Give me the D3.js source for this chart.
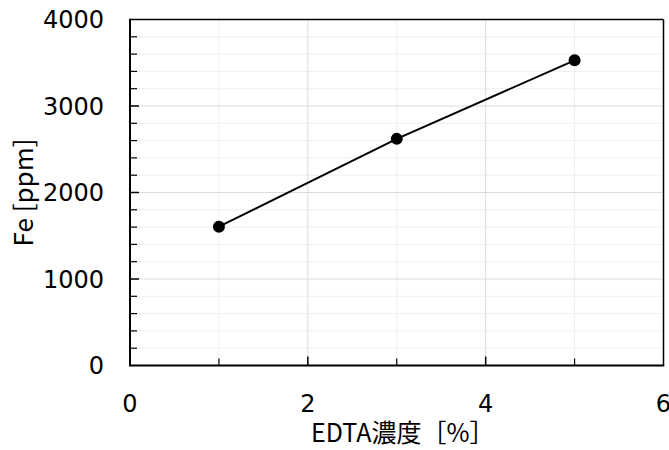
<!DOCTYPE html>
<html>
<head>
<meta charset="utf-8">
<script src="https://cdn.jsdelivr.net/npm/d3@7"></script>
<style>
  html, body { margin: 0; padding: 0; background: #fff; }
  svg { display: block; }
</style>
</head>
<body>
<svg id="chart" width="669" height="450"></svg>
<script>
// Data
const edta = [1, 3, 5];
const fe = [1605, 2620, 3528];
const xMajorTicks = [0, 2, 4, 6];
const xMinorTicks = [1, 3, 5];
const yMajorTicks = [0, 1000, 2000, 3000, 4000];
const yMinorTicks = d3.range(200, 4000, 200).filter(v => v % 1000 !== 0);
const xTitle = "EDTA濃度［%］";
const yTitle = "Fe [ppm]";

const W = 669, H = 450;
const m = { left: 130, top: 19.5, right: 669 - 663.5, bottom: 450 - 365.5 };
const svg = d3.select("#chart");

const x = d3.scaleLinear().domain([0, 6]).range([m.left, W - m.right]);
const y = d3.scaleLinear().domain([0, 4000]).range([H - m.bottom, m.top]);

const g = svg.append("g");

// minor gridlines
g.selectAll(".ymin").data(yMinorTicks).join("line")
  .attr("x1", x(0)).attr("x2", x(6))
  .attr("y1", d => y(d)).attr("y2", d => y(d))
  .attr("stroke", "#efefef").attr("stroke-width", 1);
g.selectAll(".xmin").data(xMinorTicks).join("line")
  .attr("y1", y(0)).attr("y2", y(4000))
  .attr("x1", d => x(d)).attr("x2", d => x(d))
  .attr("stroke", "#efefef").attr("stroke-width", 1);
// major gridlines
g.selectAll(".ymaj").data(yMajorTicks.slice(1, -1)).join("line")
  .attr("x1", x(0)).attr("x2", x(6))
  .attr("y1", d => y(d)).attr("y2", d => y(d))
  .attr("stroke", "#dcdcdc").attr("stroke-width", 1);
g.selectAll(".xmaj").data(xMajorTicks.slice(1, -1)).join("line")
  .attr("y1", y(0)).attr("y2", y(4000))
  .attr("x1", d => x(d)).attr("x2", d => x(d))
  .attr("stroke", "#dcdcdc").attr("stroke-width", 1);

// ticks (inside)
g.selectAll(".ytm").data(yMajorTicks.slice(1, -1)).join("line")
  .attr("x1", x(0)).attr("x2", x(0) + 9)
  .attr("y1", d => y(d)).attr("y2", d => y(d))
  .attr("stroke", "#000").attr("stroke-width", 1.5);
g.selectAll(".ytn").data(yMinorTicks).join("line")
  .attr("x1", x(0)).attr("x2", x(0) + 7)
  .attr("y1", d => y(d)).attr("y2", d => y(d))
  .attr("stroke", "#000").attr("stroke-width", 1.2);
g.selectAll(".xtm").data(xMajorTicks.slice(1, -1)).join("line")
  .attr("y1", y(0)).attr("y2", y(0) - 9)
  .attr("x1", d => x(d)).attr("x2", d => x(d))
  .attr("stroke", "#000").attr("stroke-width", 1.5);
g.selectAll(".xtn").data(xMinorTicks).join("line")
  .attr("y1", y(0)).attr("y2", y(0) - 7)
  .attr("x1", d => x(d)).attr("x2", d => x(d))
  .attr("stroke", "#000").attr("stroke-width", 1.2);

// frame
g.append("line").attr("x1", x(0)).attr("x2", x(6)).attr("y1", y(4000)).attr("y2", y(4000))
  .attr("stroke", "#000").attr("stroke-width", 1.5);
g.append("line").attr("x1", x(6)).attr("x2", x(6)).attr("y1", y(0)).attr("y2", y(4000))
  .attr("stroke", "#000").attr("stroke-width", 1.5);
g.append("line").attr("x1", x(0) - 1).attr("x2", x(6) + 0.75).attr("y1", y(0)).attr("y2", y(0))
  .attr("stroke", "#000").attr("stroke-width", 2);
g.append("line").attr("x1", x(0)).attr("x2", x(0)).attr("y1", y(0)).attr("y2", y(4000) - 0.75)
  .attr("stroke", "#000").attr("stroke-width", 2);

// tick labels
const tickFont = "'DejaVu Sans', Verdana, sans-serif";
g.selectAll(".ylab").data(yMajorTicks).join("text")
  .attr("x", 104).attr("y", d => y(d) + 8.5)
  .attr("text-anchor", "end")
  .attr("font-family", tickFont).attr("font-size", 24)
  .attr("fill", "#000")
  .text(d => d);
g.selectAll(".xlab").data(xMajorTicks).join("text")
  .attr("x", d => x(d)).attr("y", 412)
  .attr("text-anchor", "middle")
  .attr("font-family", tickFont).attr("font-size", 24)
  .attr("fill", "#000")
  .text(d => d);

// axis titles
const titleFont = "'Noto Sans CJK JP', 'Noto Sans', sans-serif";
svg.append("text")
  .attr("x", (x(0) + x(6)) / 2 + 6).attr("y", 442)
  .attr("text-anchor", "middle")
  .attr("font-family", titleFont).attr("font-size", 25)
  .attr("fill", "#000")
  .text(xTitle);
svg.append("text")
  .attr("transform", `translate(33, ${(y(0) + y(4000)) / 2}) rotate(-90)`)
  .attr("text-anchor", "middle")
  .attr("font-family", titleFont).attr("font-size", 26)
  .attr("fill", "#000")
  .text(yTitle);

// data line and points
const pts = edta.map((d, i) => [d, fe[i]]);
g.append("path").datum(pts)
  .attr("d", d3.line().x(d => x(d[0])).y(d => y(d[1])))
  .attr("fill", "none").attr("stroke", "#000").attr("stroke-width", 2);
g.selectAll(".pt").data(pts).join("circle")
  .attr("cx", d => x(d[0])).attr("cy", d => y(d[1]))
  .attr("r", 6).attr("fill", "#000");
</script>
</body>
</html>
